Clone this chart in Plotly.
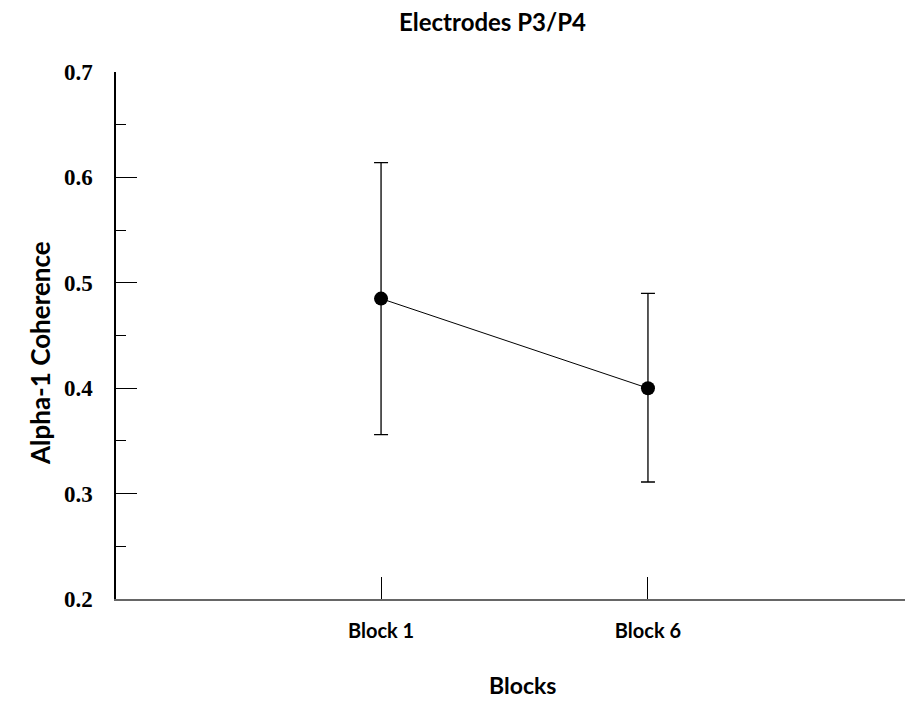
import plotly.graph_objects as go

blocks = ["Block 1", "Block 6"]
block_pos = [0, 1]
coherence = [0.485, 0.400]
err_plus = [0.129, 0.090]
err_minus = [0.129, 0.089]
y_ticks = [0.2, 0.3, 0.4, 0.5, 0.6, 0.7]

fig = go.Figure()
fig.add_trace(go.Scatter(
    x=block_pos, y=coherence, mode="lines+markers",
    line=dict(color="black", width=1),
    marker=dict(color="black", size=14),
    error_y=dict(type="data", symmetric=False, array=err_plus, arrayminus=err_minus,
                 color="black", thickness=1.3, width=7),
    showlegend=False,
))

L, R, T, B = 116, 0, 72, 103
W, H = 905, 702

fig.update_layout(
    width=W, height=H,
    margin=dict(l=L, r=R, t=T, b=B),
    plot_bgcolor="white", paper_bgcolor="white",
    xaxis=dict(
        range=[-0.993, 1.963], tickmode="array", tickvals=block_pos, ticktext=blocks,
        ticks="inside", ticklen=22, tickcolor="black", tickwidth=1,
        showline=True, linecolor="#666666", linewidth=2, showgrid=False, zeroline=False,
        tickfont=dict(family="Lato", size=20, color="black", weight="bold"),
        ticklabelstandoff=13,
    ),
    yaxis=dict(
        range=[0.2, 0.7], tickmode="array", tickvals=y_ticks,
        ticktext=[f"{v:.1f}" for v in y_ticks],
        ticks="inside", ticklen=21, tickcolor="black", tickwidth=1,
        minor=dict(ticks="inside", ticklen=10, dtick=0.05, tickcolor="black", tickwidth=1),
        showline=True, linecolor="black", linewidth=1.5, showgrid=False, zeroline=False,
        tickfont=dict(family="Liberation Serif", size=23, color="black", weight="bold"),
        ticklabelstandoff=17,
    ),
)

pw = W - L - R
ph = H - T - B
def px_to_paper(xp, yp):
    return (xp - L) / pw, (H - B - yp) / ph

labels = [
    ("Electrodes P3/P4", 492, 22, 24, 0),
    ("Blocks", 522, 685, 23, 0),
    ("Alpha-1 Coherence", 40, 353, 26, -90),
]
for text, xp, yp, size, ang in labels:
    xa, ya = px_to_paper(xp, yp)
    fig.add_annotation(text=text, x=xa, y=ya, xref="paper", yref="paper",
                       xanchor="center", yanchor="middle", showarrow=False,
                       textangle=ang,
                       font=dict(family="Lato", size=size, color="black", weight="bold"))

fig.write_html("out.html")
